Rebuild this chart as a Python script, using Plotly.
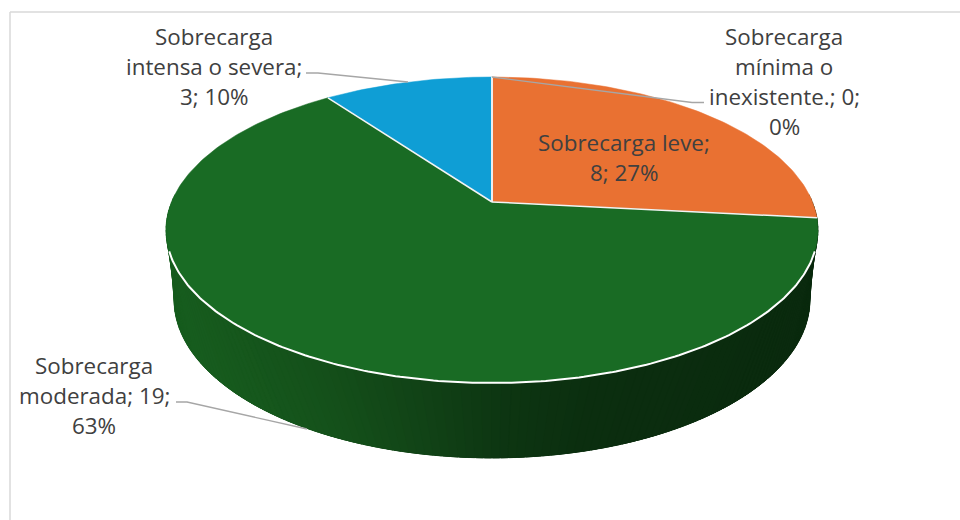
import math
import plotly.graph_objects as go

categories = ["Sobrecarga mínima o inexistente.", "Sobrecarga leve", "Sobrecarga moderada", "Sobrecarga intensa o severa"]
values = [0, 8, 19, 3]
colors = ["#156082", "#E97132", "#196B24", "#0F9ED5"]
label_lines = [
    ["Sobrecarga", "mínima o", "inexistente.; {v};", "{p}%"],
    ["Sobrecarga leve;", "{v}; {p}%"],
    ["Sobrecarga", "moderada; {v};", "{p}%"],
    ["Sobrecarga", "intensa o severa;", "{v}; {p}%"],
]
label_xy = [(784, 36), (624, 142), (94, 365), (214, 36)]
leaders = [
    [(704, 102.5), (692, 102.5), (492, 77)],
    None,
    [(176, 402), (187, 402), (307, 429)],
    [(306, 73), (318, 73), (408, 82)],
]

CX, CY, A, B, K = 492.0, 202.0, 320.5, 110.9, -0.183
FONT = "Open Sans"
FONT_SIZE = 22.4


def top(t):
    u, v = math.sin(t), -math.cos(t)
    w = 1 + K * v
    return CX + A * u / w, (B * v + CY) / w


def bottom(t):
    # lower rim: same disc, shifted down and slightly narrower
    return CX + 318 * math.sin(t), 300 - 158 * math.cos(t)


def lerp_colour(x):
    stops = [(170, (23, 92, 30)), (300, (20, 80, 26)), (400, (17, 66, 22)),
             (480, (13, 54, 18)), (580, (11, 46, 15)), (820, (10, 42, 14))]
    for (x0, c0), (x1, c1) in zip(stops, stops[1:]):
        if x <= x1:
            f = max(0, (x - x0) / (x1 - x0))
            return "rgb(%d,%d,%d)" % tuple(round(a + (b - a) * f) for a, b in zip(c0, c1))
    return "rgb(10,42,14)"


fig = go.Figure()
total = sum(values)

# side wall, drawn in thin strips for the shading
N = 120
for i in range(N):
    t0 = math.pi / 2 + math.pi * i / N - 0.05
    t1 = math.pi / 2 + math.pi * (i + 1) / N + 0.05
    a0, a1 = top(t0), top(t1)
    b0, b1 = bottom(t0), bottom(t1)
    col = lerp_colour((a0[0] + a1[0]) / 2)
    fig.add_trace(go.Scatter(
        x=[a0[0], a1[0], b1[0], b0[0], a0[0]], y=[a0[1], a1[1], b1[1], b0[1], a0[1]],
        mode="lines", fill="toself", fillcolor=col, line=dict(color=col, width=0.5),
        hoverinfo="skip", showlegend=False))

# top face wedges
start = 0.0
for val, col in zip(values, colors):
    if val > 0:
        stop = start + val / total * 2 * math.pi
        n = max(2, int(val * 12))
        pts = [top(start + (stop - start) * j / n) for j in range(n + 1)]
        xs = [CX] + [p[0] for p in pts] + [CX]
        ys = [CY] + [p[1] for p in pts] + [CY]
        fig.add_trace(go.Scatter(x=xs, y=ys, mode="lines", fill="toself", fillcolor=col,
                                 line=dict(color=col, width=0.5), hoverinfo="skip", showlegend=False))
        start = stop

# white separators between wedges
start = 0.0
for val in values:
    stop = start + val / total * 2 * math.pi
    p = top(start)
    fig.add_trace(go.Scatter(x=[CX, p[0]], y=[CY, p[1]], mode="lines",
                             line=dict(color="#f4f4f4", width=1.5), hoverinfo="skip", showlegend=False))
    start = stop

# white front rim
rim = [top(math.pi / 2 + 0.32 + (math.pi - 0.64) * j / 200) for j in range(201)]
fig.add_trace(go.Scatter(x=[p[0] for p in rim], y=[p[1] for p in rim], mode="lines",
                         line=dict(color="#ffffff", width=2), hoverinfo="skip", showlegend=False))

# leader lines
for seg in leaders:
    if seg:
        fig.add_trace(go.Scatter(x=[p[0] for p in seg], y=[p[1] for p in seg], mode="lines",
                                 line=dict(color="#a6a6a6", width=1.3), hoverinfo="skip", showlegend=False))

# labels
PITCH = 30
annotations = []
for lines, val, (lx, ly) in zip(label_lines, values, label_xy):
    pct = round(val / total * 100)
    for k, line in enumerate(lines):
        annotations.append(dict(x=lx, y=ly + k * PITCH, xref="x", yref="y", showarrow=False,
                                text=line.format(v=val, p=pct), xanchor="center", yanchor="middle",
                                font=dict(family=FONT, size=FONT_SIZE, color="#404040")))

fig.update_layout(
    width=960, height=520, margin=dict(l=0, r=0, t=0, b=0),
    paper_bgcolor="white", plot_bgcolor="white", showlegend=False,
    xaxis=dict(range=[0, 960], visible=False, fixedrange=True),
    yaxis=dict(range=[520, 0], visible=False, fixedrange=True),
    annotations=annotations,
    shapes=[
        dict(type="line", xref="x", yref="y", x0=10, x1=10, y0=12, y1=520, line=dict(color="#d9d9d9", width=1.5)),
        dict(type="line", xref="x", yref="y", x0=10, x1=960, y0=12, y1=12, line=dict(color="#d9d9d9", width=1.5)),
    ],
)
fig.write_html("out.html", config={"displayModeBar": False},
               post_script="document.body.style.margin='0';document.documentElement.style.overflow='hidden';")
